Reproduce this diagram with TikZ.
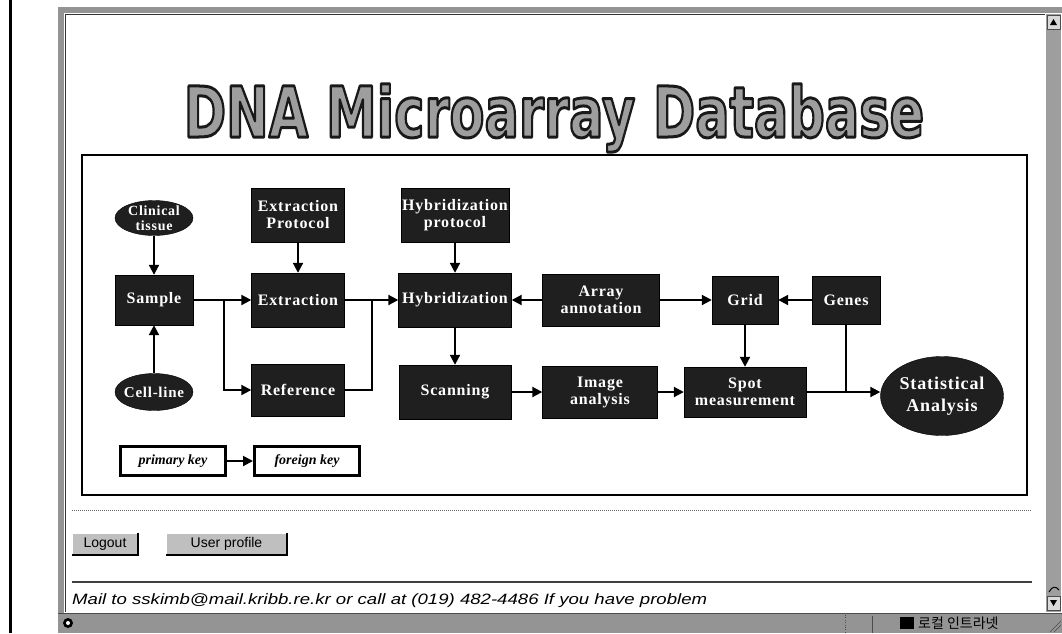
\documentclass[tikz,border=0pt]{standalone}
\usepackage{fontspec}
\setmainfont{Liberation Serif}
\newfontfamily\boxfont[LetterSpace=5]{Liberation Serif}
\newfontfamily\titlefont{DejaVu Sans}
\newfontfamily\uifont{Liberation Sans}
\newfontfamily\krfont{Noto Sans CJK KR}
\usetikzlibrary{arrows.meta,shapes.geometric,calc}
% heading set as filled and stroked glyphs (PDF text render mode 2)
\newcommand\dbtitle{\scalebox{0.728}[1]{\titlefont\bfseries\fontsize{70}{70}\selectfont
  \special{pdf:literal direct 2 Tr 3 w 0.1 0.1 0.1 RG 1 j}DNA Microarray Database\special{pdf:literal direct 0 Tr 1 w}}}
\begin{document}
\begin{tikzpicture}[x=1pt,y=-1pt,
  blk/.style={draw=black, fill=black!88, text=white, align=center, inner sep=1pt,
    font=\boxfont\bfseries\fontsize{16}{17}\selectfont},
  oval/.style={ellipse, draw=black, fill=black!88, inner sep=0pt},
  ovaltext/.style={text=white, align=center, inner sep=0pt,
    font=\boxfont\bfseries\fontsize{14}{15}\selectfont},
  keybox/.style={draw=black, line width=3pt, fill=white, inner sep=0pt,
    minimum width=105pt, minimum height=29pt,
    font=\bfseries\itshape\fontsize{14}{14}\selectfont},
  conn/.style={line width=2pt, -{Triangle[length=10pt,width=10pt]}},
  link/.style={line width=2pt},
  chrome/.style={fill=black!42},
  btn/.style={fill=black!25, draw=none, inner sep=0pt, text=black,
    font=\uifont\fontsize{14}{14}\selectfont},
]
\useasboundingbox (0,0) rectangle (1062,633);
\fill[white] (0,0) rectangle (1062,633);

% ---------- browser window ----------
\draw[line width=3pt] (10,0) -- (10,633);
\fill[chrome] (58,7) rectangle (1062,13);
\fill[chrome] (58,7) rectangle (64,613);
\draw[line width=1pt, black!80] (65,14) -- (65,612);
\draw[line width=1pt, black!80] (65,14) -- (1045,14);
% scrollbar
\fill[black!38] (1046,14) rectangle (1061,612);
\filldraw[fill=black!15, draw=black!70] (1047,15) rectangle (1060,29);
\fill[black] (1050,25) -- (1057,25) -- (1053.5,19) -- cycle;
\filldraw[fill=black!15, draw=black!70] (1047,596) rectangle (1060,610);
\fill[black] (1050,600) -- (1057,600) -- (1053.5,606) -- cycle;
\draw[line width=1pt] (1049,592) .. controls (1052,586) and (1056,586) .. (1059,590);
% status bar
\fill[chrome] (58,613) rectangle (1062,633);
\draw[line width=1pt, black!70] (58,613.5) -- (1062,613.5);
\fill[black] (68,623) circle (5pt);
\fill[white] (68,623) circle (2pt);
\draw[black!70, dotted] (845,615) -- (845,633);
\draw[black!70] (872,616) -- (872,633);
\fill[black] (900,617) rectangle (914,629);
\node[anchor=west, inner sep=0pt, font=\krfont\fontsize{14}{14}\selectfont] (zone) at (918,623) {로컬 인트라넷};
\draw[black!70] (1050,632) -- (1061,621);
\draw[black!70] (1054,632) -- (1061,625);

% ---------- page title ----------
\node[anchor=base, inner sep=0pt, text=black!38] (title) at (554,137) {\dbtitle};

% ---------- diagram frame ----------
\draw[line width=2pt] (82,155) rectangle (1027,495);

% ---------- nodes ----------
\node[oval, minimum width=78pt, minimum height=35pt] (clin) at (154,218) {};
\node[ovaltext] (clintext) at (clin) {Clinical\\tissue};
\node[blk, minimum width=78pt, minimum height=50pt] (sample) at (154,300) {Sample};
\node[oval, minimum width=78pt, minimum height=37pt] (cell) at (154,392) {};
\node[ovaltext, font=\boxfont\bfseries\fontsize{15}{16}\selectfont] (celltext) at (cell) {Cell-line};

\node[blk, minimum width=93pt, minimum height=54pt] (extp) at (298,215) {Extraction\\Protocol};
\node[blk, minimum width=93pt, minimum height=54pt] (extr) at (298,300) {Extraction};
\node[blk, minimum width=93pt, minimum height=52pt] (ref)  at (298,390) {Reference};

\node[blk, minimum width=106pt, minimum height=54pt] (hybp) at (455,215) {Hybridization\\protocol};
\node[blk, minimum width=113pt, minimum height=54pt] (hyb)  at (455,300) {Hybridization};
\node[blk, minimum width=112pt, minimum height=54pt] (scan) at (455,392) {Scanning};

\node[blk, minimum width=117pt, minimum height=52pt] (arr)   at (601,300) {Array\\annotation};
\node[blk, minimum width=66pt,  minimum height=48pt] (grid)  at (745,300) {Grid};
\node[blk, minimum width=68pt,  minimum height=48pt] (genes) at (846,300) {Genes};

\node[blk, minimum width=115pt, minimum height=52pt] (img)  at (600,392) {Image\\analysis};
\node[blk, minimum width=122pt, minimum height=50pt] (spot) at (745,392) {Spot\\measurement};
\node[oval, minimum width=123pt, minimum height=79pt] (stat) at (942,396) {};
\node[ovaltext, font=\boxfont\bfseries\fontsize{18}{22}\selectfont] (stattext) at (stat) {Statistical\\Analysis};

\node[keybox] (pk) at (173,461) {primary key};
\node[keybox] (fk) at (307,461) {foreign key};

% ---------- connectors ----------
\draw[conn] (clin) -- (sample);
\draw[conn] (cell) -- (sample);
\coordinate (split) at (224,300);
\coordinate (merge) at (372,300);
\draw[conn] (sample) -- (extr);
\draw[conn] (split) |- (ref.west);
\draw[conn] (extp) -- (extr);
\draw[conn] (extr) -- (hyb);
\draw[link] (ref.east) -| (merge);
\draw[conn] (hybp) -- (hyb);
\draw[conn] (hyb) -- (scan);
\draw[conn] (arr) -- (hyb);
\draw[conn] (arr) -- (grid);
\draw[conn] (genes) -- (grid);
\draw[conn] (grid) -- (spot);
\draw[conn] (scan) -- (img);
\draw[conn] (img) -- (spot);
\coordinate (statin) at (spot.east -| stat.west);
\draw[conn] (spot.east) -- (statin);
\coordinate (gjoin) at (genes.south |- spot.east);
\draw[link] (genes.south) -- (gjoin);
\draw[conn] (pk) -- (fk);

% ---------- page footer ----------
\draw[black!60, line width=1pt, densely dotted] (72,510) -- (1032,510);
\node[btn, minimum width=66pt, minimum height=22pt] (logout) at (105,544) {Logout};
\draw[white, line width=1pt] (72.5,554.5) -- (72.5,533.5) -- (137.5,533.5);
\draw[black, line width=1.5pt] (72,555) -- (138,555) -- (138,533);
\node[btn, minimum width=121pt, minimum height=22pt] (profile) at (226.5,544) {User profile};
\draw[white, line width=1pt] (166.5,554.5) -- (166.5,533.5) -- (286.5,533.5);
\draw[black, line width=1.5pt] (166,555) -- (287,555) -- (287,533);
\draw[black!75, line width=1.5pt] (72,582) -- (1032,582);
\node[anchor=base west, inner sep=0pt] (mail) at (72,604)
  {\scalebox{1.24}[1]{\uifont\itshape\fontsize{15}{15}\selectfont Mail to sskimb@mail.kribb.re.kr or call at (019) 482-4486 If you have problem}};
\end{tikzpicture}
\end{document}
